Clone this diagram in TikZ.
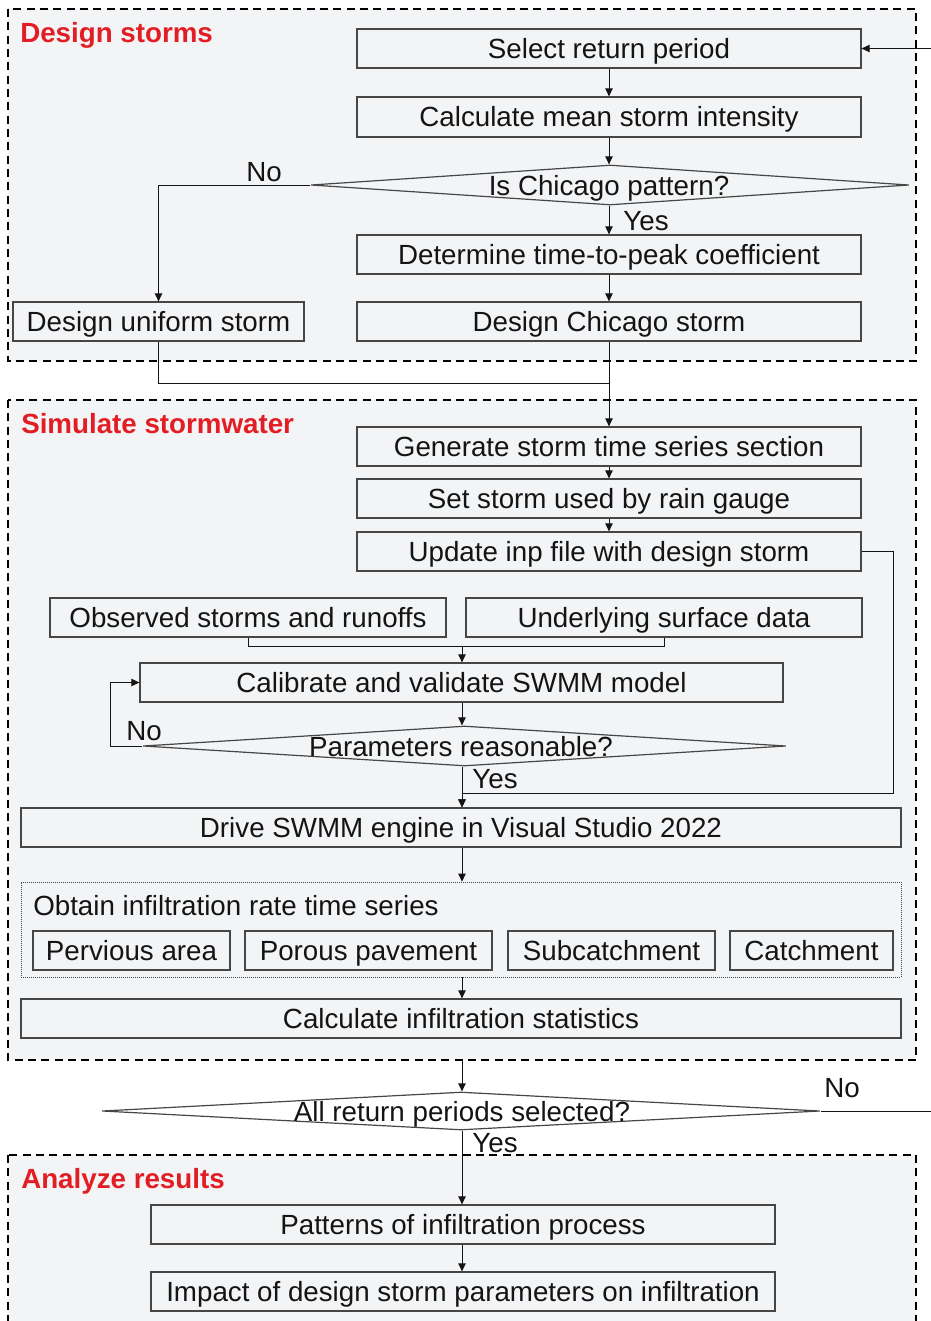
\documentclass[tikz,border=0pt]{standalone}
\usepackage{fontspec}
\setmainfont{Liberation Sans}
\usetikzlibrary{shapes.geometric,arrows.meta}
\definecolor{panel}{RGB}{243,244,246}
\definecolor{head}{RGB}{226,30,36}
\definecolor{edge}{RGB}{70,70,70}
\definecolor{ink}{RGB}{20,20,20}
\tikzset{
  txt/.style={text height=14.9pt, text depth=0pt},
  stepbox/.style={draw=edge, line width=0.9pt, rectangle, inner sep=0pt,
    minimum height=29.25pt, text=ink, font=\fontsize{20.8pt}{24pt}\selectfont, txt},
  decide/.style={draw=edge, line width=0.9pt, diamond, inner sep=0pt},
  panelbox/.style={draw=black, fill=panel, line width=1.3pt, dash pattern=on 6pt off 4pt},
  heading/.style={anchor=west, inner sep=0pt, text=head, font=\fontsize{20.8pt}{24pt}\selectfont\bfseries, txt},
  lbl/.style={inner sep=0pt, text=ink, font=\fontsize{20.8pt}{24pt}\selectfont, txt},
  link/.style={draw=ink, line width=0.75pt},
  flow/.style={link, -{Triangle[length=6pt, width=5.5pt]}},
}
\begin{document}
\begin{tikzpicture}[x=0.75pt, y=-0.75pt]
\useasboundingbox (0,0) rectangle (931,1321);
\clip (0,0) rectangle (931,1321);

% three stage panels
\draw[panelbox] (8,9) rectangle (916,361);
\draw[panelbox] (8,400) rectangle (916,1060);
\draw[panelbox] (8,1155) rectangle (916,1345);
\node[heading] (h1) at (20,33) {Design storms};
\node[heading] (h2) at (21,424) {Simulate stormwater};
\node[heading] (h3) at (21,1179) {Analyze results};

% design storms
\node[stepbox, minimum width=378pt] (sel) at (609,48.5) {Select return period};
\node[stepbox, minimum width=378pt, minimum height=30pt] (calc) at (609,117) {Calculate mean storm intensity};
\node[decide, minimum width=448.5pt, minimum height=30pt] (dia1) at (610,185) {};
\node[lbl] (dia1t) at (609,186) {Is Chicago pattern?};
\node[stepbox, minimum width=378pt] (det) at (609,254.5) {Determine time-to-peak coefficient};
\node[stepbox, minimum width=218.25pt] (uni) at (158.5,321.5) {Design uniform storm};
\node[stepbox, minimum width=378pt] (chi) at (609,321.5) {Design Chicago storm};

% stormwater simulation
\node[stepbox, minimum width=378pt] (gen) at (609,446.5) {Generate storm time series section};
\node[stepbox, minimum width=378pt] (set) at (609,498.5) {Set storm used by rain gauge};
\node[stepbox, minimum width=378pt] (upd) at (609,551.5) {Update inp file with design storm};
\node[stepbox, minimum width=297pt] (obs) at (248,617.5) {Observed storms and runoffs};
\node[stepbox, minimum width=297pt] (und) at (664,617.5) {Underlying surface data};
\node[stepbox, minimum width=482.25pt] (cal) at (461.5,682.5) {Calibrate and validate SWMM model};
\node[decide, minimum width=482.25pt, minimum height=30pt] (dia2) at (464.5,746) {};
\node[lbl] (dia2t) at (461,747) {Parameters reasonable?};
\node[stepbox, minimum width=660pt] (drv) at (461,827.5) {Drive SWMM engine in Visual Studio 2022};
\node[draw=edge, line width=0.5pt, densely dotted, rectangle, inner sep=0pt,
  minimum width=660pt, minimum height=71.25pt] (obt) at (461,929.5) {};
\node[lbl, anchor=west] (obtt) at (33,906) {Obtain infiltration rate time series};
\node[stepbox, minimum width=147.75pt] (per) at (131.5,950.5) {Pervious area};
\node[stepbox, minimum width=185.25pt] (por) at (368.5,950.5) {Porous pavement};
\node[stepbox, minimum width=155.25pt] (sub) at (611.5,950.5) {Subcatchment};
\node[stepbox, minimum width=122.25pt] (cat) at (811.5,950.5) {Catchment};
\node[stepbox, minimum width=660pt] (cst) at (461,1018.5) {Calculate infiltration statistics};

% return period check and results
\node[decide, minimum width=538.5pt, minimum height=28.5pt] (dia3) at (461,1111) {};
\node[lbl] (dia3t) at (462,1112) {All return periods selected?};
\node[stepbox, minimum width=468pt] (pat) at (463,1224.5) {Patterns of infiltration process};
\node[stepbox, minimum width=468pt] (imp) at (463,1291.5) {Impact of design storm parameters on infiltration};

% branch labels
\node[lbl] (no1) at (264,172) {No};
\node[lbl] (yes1) at (646,221) {Yes};
\node[lbl] (no2) at (144,731) {No};
\node[lbl] (yes2) at (495,779) {Yes};
\node[lbl] (no3) at (842,1088) {No};
\node[lbl] (yes3) at (495,1143) {Yes};

% junction points
\coordinate (loopin) at (931,48.5);
\coordinate (j1) at (609,383);
\coordinate (r1) at (893,793);
\coordinate (j2) at (462,646);
\coordinate (l2) at (110,746);
\coordinate (b2) at (462,1060);
\coordinate (loopout) at (931,1111);

% connectors
\draw[flow] (loopin) -- (sel.east);
\draw[flow] (sel.south) -- (calc.north);
\draw[flow] (calc.south) -- (dia1.north -| calc.south);
\draw[flow] (dia1.south -| det.north) -- (det.north);
\draw[flow] (dia1.west) -| (uni.north);
\draw[flow] (det.south) -- (chi.north);
\draw[link] (uni.south) |- (j1);
\draw[flow] (chi.south) -- (gen.north);
\draw[flow] (gen.south) -- (set.north);
\draw[flow] (set.south) -- (upd.north);
\draw[flow] (upd.east) -| (r1) -| (drv.north -| j2);
\draw[link] (obs.south) |- (j2);
\draw[link] (und.south) |- (j2);
\draw[flow] (j2) -- (cal.north -| j2);
\draw[flow] (cal.south -| j2) -- (dia2.north -| j2);
\draw[flow] (dia2.west) -- (l2) |- (cal.west);
\draw[flow] (dia2.south -| j2) -- (drv.north -| j2);
\draw[flow] (drv.south -| j2) -- (obt.north -| j2);
\draw[flow] (obt.south -| j2) -- (cst.north -| j2);
\draw[flow] (b2) -- (dia3.north -| b2);
\draw[link] (dia3.east) -- (loopout);
\draw[flow] (dia3.south -| b2) -- (pat.north -| b2);
\draw[flow] (pat.south -| b2) -- (imp.north -| b2);
\end{tikzpicture}
\end{document}
